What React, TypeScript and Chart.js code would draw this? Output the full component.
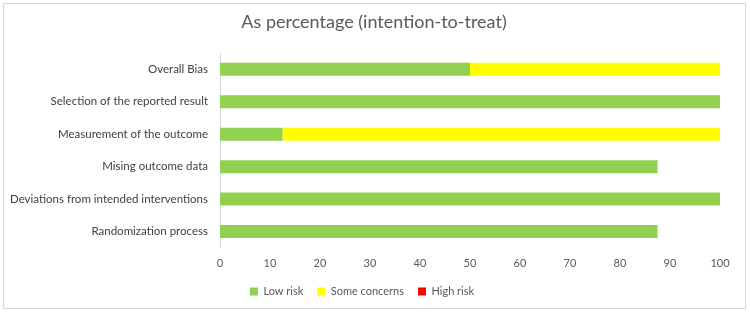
import React, { useEffect, useRef } from "react";
import { Chart, registerables } from "chart.js";

Chart.register(...registerables);

const categories = [
  "Overall Bias",
  "Selection of the reported result",
  "Measurement of the outcome",
  "Mising outcome data",
  "Deviations from intended interventions",
  "Randomization process",
];
const lowRisk = [50, 100, 12.5, 87.5, 100, 87.5];
const someConcerns = [50, 0, 87.5, 0, 0, 0];
const highRisk = [0, 0, 0, 0, 0, 0];
const xTicks = [0, 10, 20, 30, 40, 50, 60, 70, 80, 90, 100];
const titleText = "As percentage (intention-to-treat)";

const FONT = "Lato, 'Open Sans', sans-serif";

const framePlugin = {
  id: "frame",
  beforeDraw(chart: any) {
    const ctx = chart.ctx;
    ctx.save();
    ctx.fillStyle = "#ffffff";
    ctx.fillRect(0, 0, chart.width, chart.height);
    ctx.strokeStyle = "#d9d9d9";
    ctx.lineWidth = 1;
    ctx.strokeRect(3.5, 3.5, 742, 305);
    ctx.fillStyle = "#595959";
    ctx.font = `18px ${FONT}`;
    ctx.textAlign = "center";
    ctx.textBaseline = "middle";
    ctx.fillText(titleText, 374, 22);
    ctx.restore();
  },
};

export default function App() {
  const ref = useRef<HTMLCanvasElement | null>(null);
  useEffect(() => {
    if (!ref.current) return;
    const chart = new Chart(ref.current, {
      type: "bar",
      data: {
        labels: categories,
        datasets: [
          { label: "Low risk", data: lowRisk, backgroundColor: "#92D050" },
          { label: "Some concerns", data: someConcerns, backgroundColor: "#FFFF00" },
          { label: "High risk", data: highRisk, backgroundColor: "#FF0000" },
        ],
      },
      plugins: [framePlugin],
      options: {
        indexAxis: "y",
        animation: false,
        responsive: false,
        maintainAspectRatio: false,
        layout: { padding: { left: 4, right: 30, top: 53, bottom: 5 } },
        datasets: { bar: { categoryPercentage: 1, barPercentage: 0.4 } },
        plugins: {
          title: { display: false },
          legend: {
            position: "bottom",
            labels: {
              color: "#595959",
              font: { family: FONT, size: 11 },
              boxWidth: 8,
              boxHeight: 8,
              padding: 14,
            },
          },
          tooltip: { enabled: false },
        },
        scales: {
          x: {
            stacked: true,
            min: 0,
            max: 100,
            afterBuildTicks: (s: any) => {
              s.ticks = xTicks.map((v) => ({ value: v }));
            },
            grid: { display: false },
            border: { display: false },
            ticks: {
              color: "#595959",
              font: { family: FONT, size: 11 },
              padding: 1.5,
            },
          },
          y: {
            stacked: true,
            grid: { display: false },
            border: { display: true, color: "#d9d9d9" },
            afterFit: (s: any) => {
              s.width = 216;
            },
            ticks: {
              color: "#404040",
              font: { family: FONT, size: 11.5 },
              padding: 4,
            },
          },
        },
      },
    } as any);
    return () => chart.destroy();
  }, []);
  return (
    <div style={{ position: "absolute", left: 0, top: 0, width: 750, height: 312 }}>
      <canvas ref={ref} width={750} height={312} style={{ width: 750, height: 312 }} />
    </div>
  );
}
